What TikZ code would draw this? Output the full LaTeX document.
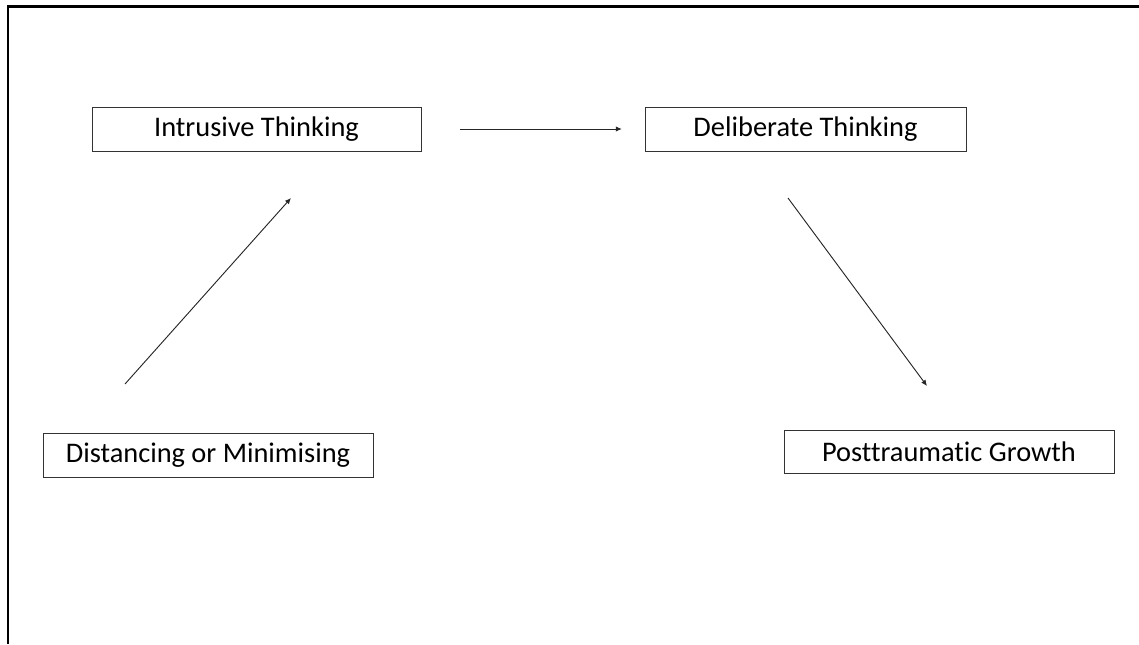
\documentclass[tikz,border=0pt]{standalone}
\usepackage{fontspec}
\setmainfont{Carlito}[Ligatures=NoCommon]
\usepackage{tikz}
\usetikzlibrary{arrows.meta, positioning}

\begin{document}
\begin{tikzpicture}[x=0.75pt, y=-0.75pt]
		\tikzset{
			box/.style={rectangle, draw=black!80, line width=0.75pt, align=center, font=\fontsize{21.3}{25}\selectfont,
			minimum height=33pt, inner sep=0pt},
			arrow/.style={-{Latex[length=4.5pt, width=4pt]}, line width=0.7pt, black!85}
		}
		\useasboundingbox (0,0) rectangle (1139,644);
		\draw[line width=1.6pt] (1139,6.5) -- (8,6.5) -- (8,644);

		\node[box, minimum width=246.75pt] (intrusive) at (256.5,129) {Intrusive Thinking};
		\node[box, minimum width=240.75pt] (deliberate) at (805.5,129) {Deliberate Thinking};
		\node[box, minimum width=247.5pt] (distancing) at (208,455) {Distancing or Minimising};
		\node[box, minimum width=247.5pt, minimum height=32.25pt] (growth) at (949,451.5) {Posttraumatic Growth};

		\coordinate (distancingout) at (125,384);
		\coordinate (intrusivein) at (291,198);
		\coordinate (deliberateout) at (788,198);
		\coordinate (growthin) at (927,386);

		\draw[arrow, shorten <=29pt, shorten >=17pt](intrusive) -- (deliberate);
		\draw[arrow](distancingout) -- (intrusivein);
		\draw[arrow](deliberateout) -- (growthin);
	\end{tikzpicture}
\end{document}
